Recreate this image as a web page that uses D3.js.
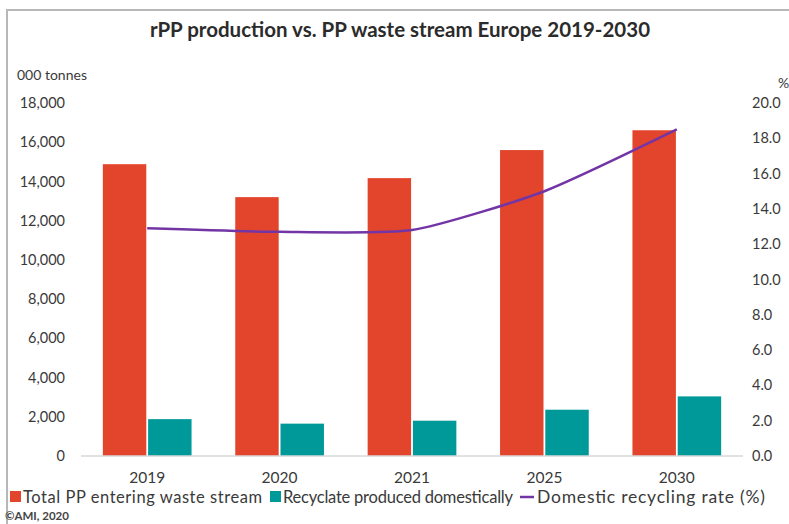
<!DOCTYPE html>
<html>
<head>
<meta charset="utf-8">
<script src="https://cdn.jsdelivr.net/npm/d3@7"></script>
<style>
  body { margin: 0; background: #fff; }
  svg { display: block; font-family: Lato, "Open Sans", sans-serif; }
</style>
</head>
<body>
<svg id="chart" width="789" height="524"></svg>
<script>
// Data
const years = ["2019", "2020", "2021", "2025", "2030"];
const totalWaste = [14880, 13200, 14170, 15600, 16610];   // 000 tonnes
const recyclate = [1880, 1650, 1800, 2360, 3040];         // 000 tonnes
const recyclingRate = [12.9, 12.7, 12.8, 15.0, 18.5];     // %
const leftTicks = [0, 2000, 4000, 6000, 8000, 10000, 12000, 14000, 16000, 18000];
const rightTicks = [0, 2, 4, 6, 8, 10, 12, 14, 16, 18, 20];
const seriesNames = ["Total PP entering waste stream", "Recyclate produced domestically", "Domestic recycling rate (%)"];

const colors = { total: "#e2452b", recyc: "#00999a", rate: "#7335a6" };
const textColor = "#3a3a3a";

const svg = d3.select("#chart");
const plot = { left: 81, right: 743, top: 103, bottom: 456 };

// Scales
const x = d3.scaleBand().domain(years).range([plot.left, plot.right]).paddingInner(0.33).paddingOuter(0.165);
const xInner = d3.scaleBand().domain(["total", "recyc"]).range([0, x.bandwidth()]).paddingInner(0.04);
const yLeft = d3.scaleLinear().domain([0, 18000]).range([plot.bottom, plot.top]);
const yRight = d3.scaleLinear().domain([0, 20]).range([plot.bottom, plot.top]);

// Frame
svg.append("rect")
  .attr("x", 7).attr("y", 10).attr("width", 800).attr("height", 530)
  .attr("fill", "none").attr("stroke", "#b8b8b8").attr("stroke-width", 2);

// Title
svg.append("text")
  .attr("x", 400).attr("y", 37)
  .attr("text-anchor", "middle")
  .attr("font-size", 20.5).attr("font-weight", "bold")
  .attr("fill", "#2b2b2b")
  .text("rPP production vs. PP waste stream Europe 2019-2030");

// Axis titles
svg.append("text").attr("x", 17).attr("y", 80).attr("font-size", 14).attr("fill", textColor).text("000 tonnes");
svg.append("text").attr("x", 778).attr("y", 88).attr("font-size", 14).attr("fill", textColor).text("%");

// Left axis labels
svg.append("g").selectAll("text")
  .data(leftTicks)
  .join("text")
    .attr("x", 65)
    .attr("y", d => yLeft(d))
    .attr("dy", "0.35em")
    .attr("text-anchor", "end")
    .attr("font-size", 14.5)
    .attr("fill", textColor)
    .text(d3.format(","));

// Right axis labels
svg.append("g").selectAll("text")
  .data(rightTicks)
  .join("text")
    .attr("x", 752)
    .attr("y", d => yRight(d))
    .attr("dy", "0.35em")
    .attr("font-size", 14.5)
    .attr("fill", textColor)
    .text(d3.format(".1f"));

// Bars
const groups = svg.append("g").selectAll("g")
  .data(years)
  .join("g")
    .attr("transform", d => `translate(${x(d)},0)`);

groups.append("rect")
  .attr("x", xInner("total"))
  .attr("width", xInner.bandwidth())
  .attr("y", (d, i) => yLeft(totalWaste[i]))
  .attr("height", (d, i) => yLeft(0) - yLeft(totalWaste[i]))
  .attr("fill", colors.total);

groups.append("rect")
  .attr("x", xInner("recyc"))
  .attr("width", xInner.bandwidth())
  .attr("y", (d, i) => yLeft(recyclate[i]))
  .attr("height", (d, i) => yLeft(0) - yLeft(recyclate[i]))
  .attr("fill", colors.recyc);

// Baseline
svg.append("line")
  .attr("x1", plot.left).attr("x2", plot.right)
  .attr("y1", plot.bottom).attr("y2", plot.bottom)
  .attr("stroke", "#d9d9d9").attr("stroke-width", 1.5);

// Category labels
svg.append("g").selectAll("text")
  .data(years)
  .join("text")
    .attr("x", d => x(d) + x.bandwidth() / 2)
    .attr("y", 483)
    .attr("text-anchor", "middle")
    .attr("font-size", 15.5)
    .attr("fill", textColor)
    .text(d => d);

// Rate line
const line = d3.line()
  .x((d, i) => x(years[i]) + x.bandwidth() / 2)
  .y(d => yRight(d))
  .curve(d3.curveCardinal.tension(0.4));

svg.append("path")
  .datum(recyclingRate)
  .attr("d", line)
  .attr("fill", "none")
  .attr("stroke", colors.rate)
  .attr("stroke-width", 2.5);

// Legend
const legend = svg.append("g").attr("fill", textColor);
const legendItems = [
  { x: 10, type: "rect", color: colors.total, label: seriesNames[0], w: 239, size: 16.5 },
  { x: 270, type: "rect", color: colors.recyc, label: seriesNames[1], w: 230, size: 16.5 },
  { x: 520, type: "line", color: colors.rate, label: seriesNames[2], w: 228, size: 17.5 }
];
legendItems.forEach(item => {
  if (item.type === "rect") {
    legend.append("rect").attr("x", item.x).attr("y", 491).attr("width", 11).attr("height", 11).attr("fill", item.color);
  } else {
    legend.append("line").attr("x1", item.x).attr("x2", item.x + 14).attr("y1", 497).attr("y2", 497)
      .attr("stroke", item.color).attr("stroke-width", 2.5);
  }
  legend.append("text")
    .attr("x", item.x + (item.type === "rect" ? 13 : 17))
    .attr("y", 503)
    .attr("font-size", item.size)
    .attr("textLength", item.w)
    .attr("lengthAdjust", "spacing")
    .text(item.label);
});

// Source
svg.append("text")
  .attr("x", 5).attr("y", 520)
  .attr("font-size", 11.5).attr("font-weight", "bold")
  .attr("fill", "#444")
  .text("©AMI, 2020");
</script>
</body>
</html>
